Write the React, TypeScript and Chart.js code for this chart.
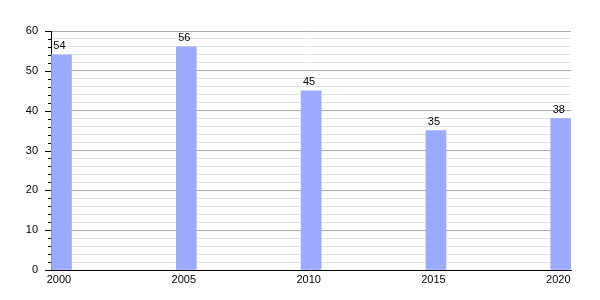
import React, { useEffect, useRef } from "react";
import { Chart, registerables } from "chart.js";

Chart.register(...registerables);

const years = [2000, 2005, 2010, 2015, 2020];
const values = [54, 56, 45, 35, 38];
const yTickLabels = [0, 10, 20, 30, 40, 50, 60];

const BAR_OFFSET = 0.42;
const LABEL_OFFSET = 0.32;

const valueLabels = {
  id: "valueLabels",
  afterDatasetsDraw(chart: any) {
    const ctx = chart.ctx;
    const meta = chart.getDatasetMeta(0);
    ctx.save();
    ctx.fillStyle = "#000";
    ctx.font = "11px 'Liberation Sans', Arial, sans-serif";
    ctx.textAlign = "center";
    ctx.textBaseline = "bottom";
    meta.data.forEach((bar: any, i: number) => {
      ctx.fillText(String(values[i]), bar.x - 2, bar.y - 3);
    });
    ctx.restore();
  },
};

const minorTicks = {
  id: "minorTicks",
  afterDraw(chart: any) {
    const ctx = chart.ctx;
    const y = chart.scales.y;
    const left = chart.chartArea.left;
    ctx.save();
    ctx.strokeStyle = "#000";
    ctx.lineWidth = 1;
    for (let v = 0; v <= 60; v += 2) {
      const py = Math.round(y.getPixelForValue(v)) + 0.5;
      const len = v % 10 === 0 ? 6 : 3;
      ctx.beginPath();
      ctx.moveTo(left - len, py);
      ctx.lineTo(left, py);
      ctx.stroke();
    }
    ctx.restore();
  },
};

export default function App() {
  const ref = useRef<HTMLCanvasElement>(null);
  useEffect(() => {
    document.body.style.margin = "0";
    const chart = new Chart(ref.current!, {
      type: "bar",
      data: {
        datasets: [
          {
            data: years.map((yr, i) => ({ x: yr + BAR_OFFSET, y: values[i] })),
            backgroundColor: "#99aaff",
            barThickness: 20,
          },
        ],
      },
      options: {
        animation: false,
        responsive: false,
        layout: { padding: { left: 0, top: 31, right: 29, bottom: 0 } },
        plugins: { legend: { display: false }, tooltip: { enabled: false } },
        scales: {
          x: {
            type: "linear",
            min: 2000,
            max: 2020.83,
            offset: false,
            afterBuildTicks(scale: any) {
              scale.ticks = years.map((yr) => ({ value: yr + LABEL_OFFSET }));
            },
            afterFit(scale: any) {
              scale.height = 30;
            },
            grid: { display: false, drawTicks: false, tickLength: 0, offset: false },
            border: { display: true, color: "#000", width: 1 },
            ticks: {
              color: "#000",
              font: { size: 11, family: "'Liberation Sans', Arial, sans-serif" },
              padding: 3,
              maxRotation: 0,
              autoSkip: false,
              callback: (v: any) => String(Math.round(Number(v) - LABEL_OFFSET)),
            },
          },
          y: {
            min: 0,
            max: 60,
            afterFit(scale: any) {
              scale.width = 51;
            },
            ticks: {
              stepSize: 2,
              color: "#000",
              padding: 13,
              font: { size: 11, family: "'Liberation Sans', Arial, sans-serif" },
              autoSkip: false,
              callback: (v: any) =>
                yTickLabels.includes(Number(v)) ? String(v) : "",
            },
            grid: {
              drawTicks: false,
              color: (c: any) =>
                c.tick && c.tick.value % 10 === 0 ? "#aaaaaa" : "#e2e2e2",
            },
            border: { display: true, color: "#000", width: 1 },
          },
        },
      },
      plugins: [valueLabels, minorTicks],
    });
    return () => chart.destroy();
  }, []);
  return (
    <div style={{ width: 600, height: 300 }}>
      <canvas ref={ref} width={600} height={300} />
    </div>
  );
}
